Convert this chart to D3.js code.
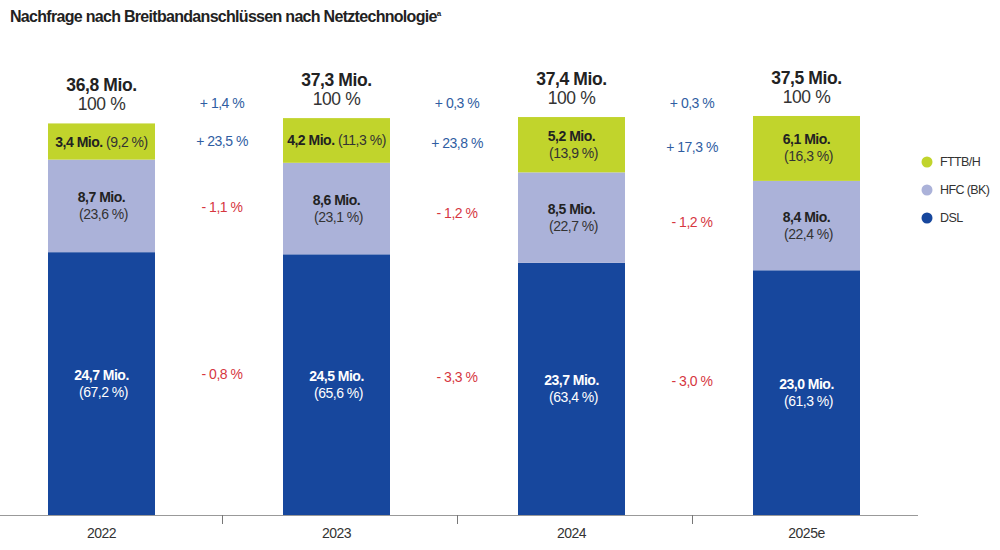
<!DOCTYPE html>
<html>
<head>
<meta charset="utf-8">
<script src="https://cdn.jsdelivr.net/npm/d3@7"></script>
<style>
    body { margin: 0; background: #fff; }
    svg { font-family: "Liberation Sans", Arial, sans-serif; }
</style>
</head>
<body>
<svg id="chart" width="1000" height="550"></svg>
<script>
// data (Mio. connections)
const years = ["2022", "2023", "2024", "2025e"];
const technologies = ["DSL", "HFC (BK)", "FTTB/H"];
const dsl = [24.7, 24.5, 23.7, 23.0];
const hfc = [8.7, 8.6, 8.5, 8.4];
const fttb = [3.4, 4.2, 5.2, 6.1];
const dslShare = ["67,2", "65,6", "63,4", "61,3"];
const hfcShare = ["23,6", "23,1", "22,7", "22,4"];
const fttbShare = ["9,2", "11,3", "13,9", "16,3"];
const totals = ["36,8", "37,3", "37,4", "37,5"];
// year-over-year changes between neighbouring bars
const totalChange = ["+ 1,4 %", "+ 0,3 %", "+ 0,3 %"];
const fttbChange = ["+ 23,5 %", "+ 23,8 %", "+ 17,3 %"];
const hfcChange = ["- 1,1 %", "- 1,2 %", "- 1,2 %"];
const dslChange = ["- 0,8 %", "- 3,3 %", "- 3,0 %"];

const colors = { "DSL": "#17479d", "HFC (BK)": "#abb2d9", "FTTB/H": "#c1d42c" };
const blue = "#2f5da2", red = "#d6373f";
const fs = 14;

const svg = d3.select("#chart");

svg.append("text")
    .attr("x", 10).attr("y", 22)
    .attr("font-size", 16).attr("font-weight", "bold")
    .attr("letter-spacing", -0.7)
    .attr("fill", "#222")
    .text("Nachfrage nach Breitbandanschlüssen nach Netztechnologie")
    .append("tspan")
        .attr("font-size", 8).attr("dy", -6)
        .text("a");

const baseY = 515;
const x = d3.scaleBand().domain(years).range([-13, 927]).padding(0);
const y = d3.scaleLinear().domain([0, 48.4]).range([baseY, 0]);
const barW = 107;
const barX = function (yr) { return x(yr) + x.bandwidth() / 2 - 3 - barW / 2; };

// build stacked rows
const rows = years.map(function (yr, i) {
    return { year: yr, "DSL": dsl[i], "HFC (BK)": hfc[i], "FTTB/H": fttb[i] };
});
const shares = { "DSL": dslShare, "HFC (BK)": hfcShare, "FTTB/H": fttbShare };
const stack = d3.stack().keys(technologies)(rows);

const layers = svg.append("g").selectAll("g")
    .data(stack)
    .enter().append("g")
        .attr("fill", function (d) { return colors[d.key]; });

layers.selectAll("rect")
    .data(function (d) { return d; })
    .enter().append("rect")
        .attr("x", function (d) { return barX(d.data.year); })
        .attr("width", barW)
        .attr("y", function (d) { return y(d[1]); })
        .attr("height", function (d) { return y(d[0]) - y(d[1]); });

// labels inside the segments
const fmt = function (v) { return v.toFixed(1).replace(".", ","); };
const mid = function (seg) { return (y(seg[0]) + y(seg[1])) / 2; };

stack.forEach(function (layer) {
    const light = layer.key === "DSL";
    layer.forEach(function (seg, i) {
        const cx = barX(seg.data.year) + barW / 2;
        const h = y(seg[0]) - y(seg[1]);
        const t = svg.append("text")
            .attr("x", cx)
            .attr("text-anchor", "middle")
            .attr("font-size", fs)
            .attr("letter-spacing", -0.5)
            .attr("fill", light ? "#fff" : "#333");
        if (h < 50) {
            t.attr("y", mid(seg) + 5);
            t.append("tspan").attr("font-weight", "bold").attr("fill", light ? "#fff" : "#222")
                .text(fmt(seg.data[layer.key]) + " Mio. ");
            t.append("tspan").text("(" + shares[layer.key][i] + " %)");
        } else {
            t.attr("y", mid(seg) - 4);
            t.append("tspan").attr("font-weight", "bold").attr("fill", light ? "#fff" : "#222")
                .text(fmt(seg.data[layer.key]) + " Mio.");
            t.append("tspan").attr("x", cx + 2).attr("dy", 17)
                .text("(" + shares[layer.key][i] + " %)");
        }
    });
});

// totals on top
const topLayer = stack[stack.length - 1];
topLayer.forEach(function (seg, i) {
    const cx = barX(seg.data.year) + barW / 2;
    svg.append("text")
        .attr("x", cx).attr("y", y(seg[1]) - 32)
        .attr("text-anchor", "middle")
        .attr("font-size", 17.5).attr("font-weight", "bold")
        .attr("letter-spacing", -0.4)
        .attr("fill", "#222")
        .text(totals[i] + " Mio.");
    svg.append("text")
        .attr("x", cx).attr("y", y(seg[1]) - 13)
        .attr("text-anchor", "middle")
        .attr("font-size", 17.5)
        .attr("letter-spacing", -0.4)
        .attr("fill", "#333")
        .text("100 %");
});

// change labels between bars
const changes = { "DSL": dslChange, "HFC (BK)": hfcChange, "FTTB/H": fttbChange };
for (let i = 0; i < years.length - 1; i++) {
    const gx = x(years[i + 1]);
    svg.append("text")
        .attr("x", gx).attr("y", 108)
        .attr("text-anchor", "middle")
        .attr("font-size", fs).attr("letter-spacing", -0.5)
        .attr("fill", blue)
        .text(totalChange[i]);
    stack.forEach(function (layer) {
        const cy = (mid(layer[i]) + mid(layer[i + 1])) / 2;
        const val = changes[layer.key][i];
        svg.append("text")
            .attr("x", gx).attr("y", cy + (layer.key === "DSL" ? -5 : 5))
            .attr("text-anchor", "middle")
            .attr("font-size", fs).attr("letter-spacing", -0.5)
            .attr("fill", val.charAt(0) === "+" ? blue : red)
            .text(val);
    });
}

// x axis
const axis = svg.append("g");
axis.append("line")
    .attr("x1", 0).attr("x2", 918)
    .attr("y1", baseY + 0.5).attr("y2", baseY + 0.5)
    .attr("stroke", "#999").attr("stroke-width", 1.2);
axis.selectAll("line.tick")
    .data(years.slice(1))
    .enter().append("line")
        .attr("class", "tick")
        .attr("x1", function (d) { return Math.round(x(d)) + 0.5; })
        .attr("x2", function (d) { return Math.round(x(d)) + 0.5; })
        .attr("y1", baseY).attr("y2", baseY + 9)
        .attr("stroke", "#777");
axis.selectAll("text")
    .data(years)
    .enter().append("text")
        .attr("x", function (d) { return barX(d) + barW / 2; })
        .attr("y", baseY + 23)
        .attr("text-anchor", "middle")
        .attr("font-size", fs).attr("letter-spacing", -0.5)
        .attr("fill", "#333")
        .text(function (d) { return d; });

// legend
const legend = svg.append("g").selectAll("g")
    .data(technologies.slice().reverse())
    .enter().append("g")
        .attr("transform", function (d, i) { return "translate(927," + (162 + i * 28) + ")"; });
legend.append("circle").attr("r", 5.5).attr("fill", function (d) { return colors[d]; });
legend.append("text")
    .attr("x", 13).attr("y", 4)
    .attr("font-size", 12.5).attr("letter-spacing", -0.6)
    .attr("fill", "#333")
    .text(function (d) { return d; });
</script>
</body>
</html>
